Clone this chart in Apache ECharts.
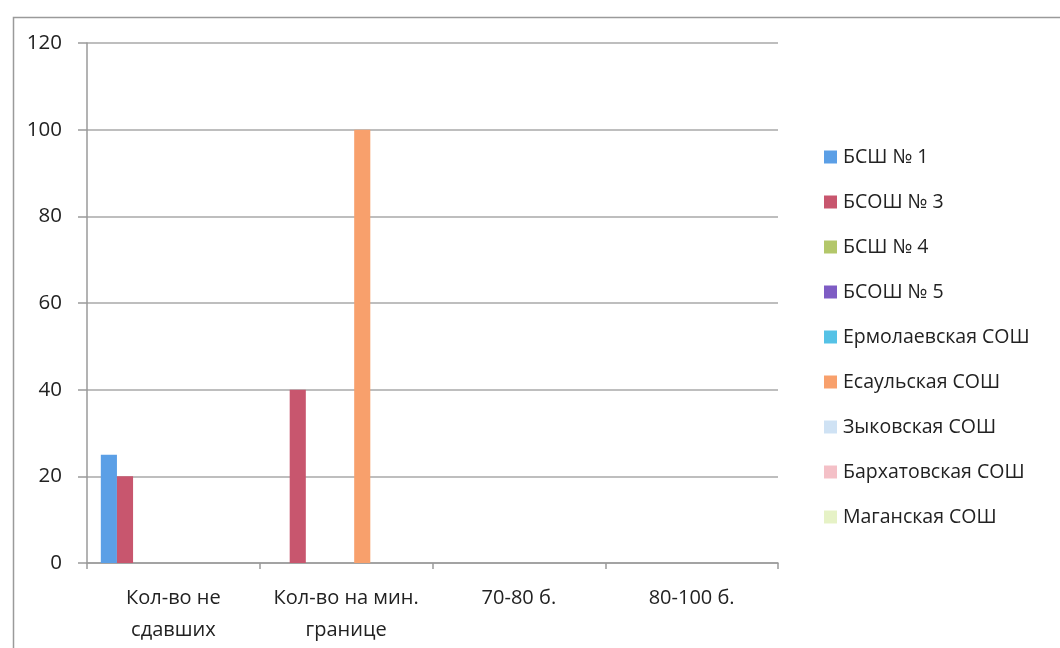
<!DOCTYPE html>
<html><head><meta charset="utf-8">
<script src="https://cdn.jsdelivr.net/npm/echarts@6/dist/echarts.min.js"></script>
<style>html,body{margin:0;padding:0;background:#fff}#c{width:1060px;height:648px}</style>
</head><body><div id="c"></div>
<script>
const categories = ['Кол-во не\nсдавших', 'Кол-во на мин.\nгранице', '70-80 б.', '80-100 б.'];
const seriesNames = ['БСШ № 1', 'БСОШ № 3', 'БСШ № 4', 'БСОШ № 5', 'Ермолаевская СОШ', 'Есаульская СОШ', 'Зыковская СОШ', 'Бархатовская СОШ', 'Маганская СОШ'];
const bsh1 = [25, 0, 0, 0];
const bsosh3 = [20, 40, 0, 0];
const bsh4 = [0, 0, 0, 0];
const bsosh5 = [0, 0, 0, 0];
const ermolaevskaya = [0, 0, 0, 0];
const esaulskaya = [0, 100, 0, 0];
const zykovskaya = [0, 0, 0, 0];
const barkhatovskaya = [0, 0, 0, 0];
const maganskaya = [0, 0, 0, 0];
const yTicks = [0, 20, 40, 60, 80, 100, 120];
const seriesData = [bsh1, bsosh3, bsh4, bsosh5, ermolaevskaya, esaulskaya, zykovskaya, barkhatovskaya, maganskaya];
const colors = ['#5B9FE6', '#C8566E', '#B3C76A', '#7E5CC4', '#55C2E6', '#F8A06C', '#CFE2F4', '#F4C0C7', '#E6F2C6'];

const chart = echarts.init(document.getElementById('c'), null, {renderer: 'canvas'});
const font = 'Open Sans';
chart.setOption({
  animation: false,
  color: colors,
  textStyle: {fontFamily: font},
  grid: {left: 87, right: 282, top: 43, bottom: 85, containLabel: false},
  graphic: [{
    type: 'rect', left: 11, top: 15, shape: {width: 1060, height: 650},
    style: {fill: 'none', stroke: '#9a9a9a', lineWidth: 1.5}
  }],
  legend: {
    orient: 'vertical', left: 819, top: 142, itemGap: 25,
    itemWidth: 13, itemHeight: 13, icon: 'rect',
    textStyle: {fontFamily: font, fontSize: 19.5, lineHeight: 20, color: '#222', padding: [0, 0, 0, 1]},
    data: seriesNames
  },
  xAxis: {
    type: 'category', data: categories,
    axisLine: {lineStyle: {color: '#9a9a9a', width: 1.5}},
    axisTick: {show: true, interval: 0, length: 6, lineStyle: {color: '#9a9a9a', width: 1.5}},
    axisLabel: {interval: 0, fontFamily: font, fontSize: 20, color: '#222', lineHeight: 32, margin: 19}
  },
  yAxis: {
    type: 'value', min: 0, max: 120, interval: 20,
    axisLine: {show: true, lineStyle: {color: '#9a9a9a', width: 1.5}},
    axisTick: {show: true, length: 9, lineStyle: {color: '#9a9a9a', width: 1.5}},
    splitLine: {lineStyle: {color: '#a8a8a8', width: 1.5}},
    axisLabel: {fontFamily: font, fontSize: 20.5, color: '#222', margin: 25,
      formatter: v => yTicks.includes(v) ? String(v) : ''}
  },
  series: seriesNames.map((n, i) => ({
    name: n, type: 'bar', data: seriesData[i],
    barGap: '0%', barCategoryGap: '16%'
  }))
});
</script></body></html>
